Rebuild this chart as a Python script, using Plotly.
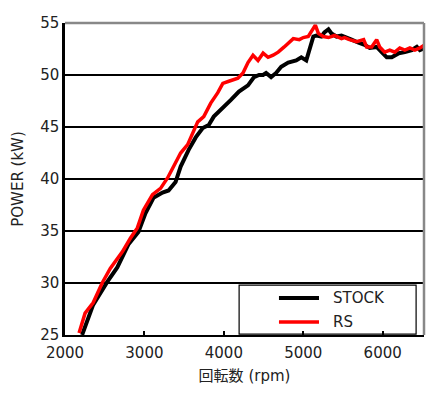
import plotly.graph_objects as go

stock_rpm = [2215, 2354, 2532, 2658, 2797, 2924, 3013, 3114, 3228, 3304, 3392, 3456, 3557, 3646, 3734,
             3810, 3873, 3987, 4089, 4190, 4304, 4380, 4443, 4494, 4532, 4595, 4658, 4722, 4810, 4911,
             4975, 5038, 5076, 5127, 5165, 5228, 5266, 5317, 5355, 5418, 5481, 5519, 5608, 5696, 5772,
             5836, 5924, 5987, 6051, 6114, 6203, 6279, 6367, 6430, 6468, 6532]
stock_kw = [25.0, 27.9, 30.1, 31.5, 33.7, 34.9, 36.7, 38.2, 38.7, 38.9, 39.7, 41.2, 42.8, 44.0, 44.9,
            45.2, 46.0, 46.8, 47.6, 48.4, 49.0, 49.8, 50.0, 50.0, 50.2, 49.8, 50.2, 50.8, 51.2, 51.4,
            51.7, 51.4, 52.4, 53.7, 53.8, 53.7, 54.1, 54.4, 54.0, 53.7, 53.8, 53.7, 53.4, 53.1, 52.9,
            52.6, 52.7, 52.2, 51.7, 51.7, 52.1, 52.2, 52.4, 52.7, 52.4, 52.6]

rs_rpm = [2177, 2253, 2354, 2468, 2570, 2722, 2823, 2911, 2987, 3101, 3203, 3291, 3367, 3456, 3544,
          3620, 3671, 3747, 3835, 3924, 3987, 4063, 4177, 4241, 4304, 4367, 4430, 4494, 4557, 4620,
          4684, 4760, 4874, 4950, 5000, 5063, 5127, 5152, 5190, 5253, 5317, 5393, 5481, 5519, 5582,
          5671, 5760, 5798, 5861, 5924, 5962, 6025, 6089, 6152, 6215, 6279, 6342, 6405, 6468, 6532]
rs_kw = [25.2, 27.1, 28.1, 30.0, 31.4, 33.0, 34.3, 35.3, 37.0, 38.5, 39.1, 40.1, 41.2, 42.5, 43.3,
         44.7, 45.5, 46.0, 47.3, 48.3, 49.2, 49.4, 49.7, 50.2, 51.2, 51.9, 51.4, 52.1, 51.7, 51.9,
         52.2, 52.7, 53.5, 53.4, 53.6, 53.7, 54.6, 54.8, 54.0, 53.7, 53.6, 53.8, 53.5, 53.6, 53.4,
         53.2, 53.4, 52.7, 52.7, 53.4, 52.7, 52.2, 52.4, 52.2, 52.6, 52.4, 52.6, 52.4, 52.6, 52.9]

series_names = ["STOCK", "RS"]
series_colors = ["black", "#ff0000"]
series_widths = [4, 3.5]

x_ticks = [2000, 3000, 4000, 5000, 6000]
y_ticks = [25, 30, 35, 40, 45, 50, 55]

FONT = "DejaVu Sans, Noto Sans CJK JP, sans-serif"

fig = go.Figure()
for xs, ys, name, color, w in zip([stock_rpm, rs_rpm], [stock_kw, rs_kw],
                                  series_names, series_colors, series_widths):
    fig.add_trace(go.Scatter(x=xs, y=ys, mode="lines", name=name,
                             line=dict(color=color, width=w), showlegend=False))

# legend drawn inside a boxed area (paper coordinates)
legend_shapes = [
    dict(type="rect", xref="paper", yref="paper", x0=0.485, x1=0.978, y0=0.003, y1=0.16,
         line=dict(color="black", width=1.2), fillcolor="white", layer="below"),
]
legend_ann = []
for i, (name, color, w) in enumerate(zip(series_names, series_colors, series_widths)):
    yy = 0.1186 - i * 0.077
    legend_shapes.append(dict(type="line", xref="paper", yref="paper", x0=0.596, x1=0.7075,
                              y0=yy, y1=yy, line=dict(color=color, width=w)))
    legend_ann.append(dict(xref="paper", yref="paper", x=0.741, y=yy, text=name,
                           showarrow=False, xanchor="left", yanchor="middle",
                           font=dict(size=15, color="#222")))

fig.update_layout(
    width=432, height=387,
    margin=dict(l=57, r=16, t=15, b=60),
    paper_bgcolor="white", plot_bgcolor="white",
    font=dict(family=FONT, size=15, color="#222"),
    showlegend=False,
    xaxis=dict(range=[2000, 6520], tickvals=x_ticks, ticktext=[str(v) for v in x_ticks],
               showgrid=False, zeroline=False, showline=True, linecolor="black", linewidth=2,
               ticks="inside", ticklen=4, tickcolor="black", tickwidth=2, automargin=False,
               ticklabelstandoff=3,
               title=dict(text="回転数 (rpm)", font=dict(size=15), standoff=9)),
    yaxis=dict(range=[25, 55], tickvals=y_ticks, ticktext=[str(v) for v in y_ticks],
               showgrid=True, gridcolor="black", gridwidth=1.5, zeroline=False,
               showline=True, linecolor="black", linewidth=2.5, ticks="", automargin=False,
               title=dict(text="POWER (kW)", font=dict(size=15), standoff=13)),
    shapes=[
        dict(type="line", xref="paper", yref="paper", x0=0, x1=1, y0=1, y1=1,
             line=dict(color="#888", width=2.5)),
        dict(type="line", xref="paper", yref="paper", x0=1, x1=1, y0=0, y1=1,
             line=dict(color="#888", width=2.5)),
    ] + legend_shapes,
    annotations=legend_ann,
)
fig.write_html("out.html")
